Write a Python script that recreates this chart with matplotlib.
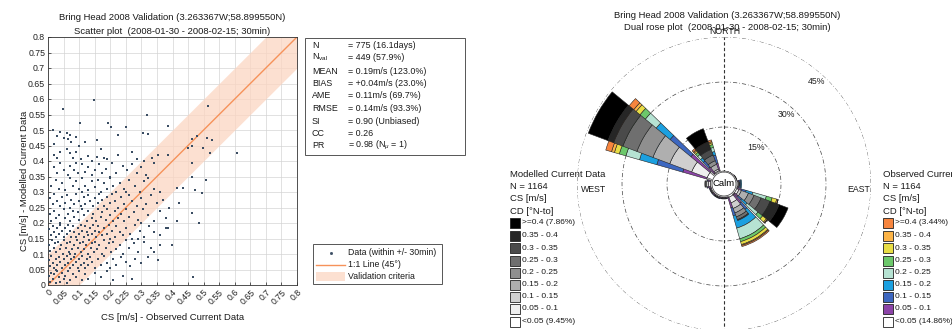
import numpy as np
import matplotlib.pyplot as plt
from matplotlib.patches import Rectangle

plt.rcParams['font.family'] = ['Liberation Sans', 'DejaVu Sans']
plt.rcParams['mathtext.fontset'] = 'custom'
plt.rcParams['mathtext.rm'] = 'Liberation Sans'
plt.rcParams['mathtext.it'] = 'Liberation Sans:italic'

# ---- scatter data: (observed CS, modelled CS) in m/s ----
pairs = [
    (0.148, 0.597), (0.048, 0.569), (0.317, 0.549), (0.515, 0.578), (0.016, 0.50), (0.102, 0.522),
    (0.193, 0.522), (0.204, 0.509), (0.252, 0.509), (0.387, 0.514), (0.04, 0.495), (0.06, 0.49),
    (0.07, 0.485),
    (0.03, 0.48), (0.05, 0.475), (0.065, 0.47), (0.075, 0.46), (0.09, 0.478), (0.10, 0.45),
    (0.156, 0.468), (0.226, 0.485), (0.306, 0.49), (0.32, 0.486), (0.464, 0.47), (0.478, 0.481),
    (0.51, 0.474), (0.526, 0.468), (0.451, 0.441), (0.462, 0.447), (0.499, 0.441), (0.02, 0.455),
    (0.12, 0.462),
    (0.02, 0.42), (0.03, 0.41), (0.04, 0.43), (0.06, 0.44), (0.07, 0.425), (0.08, 0.41), (0.09, 0.43),
    (0.107, 0.405), (0.13, 0.415), (0.14, 0.40), (0.156, 0.412), (0.17, 0.44), (0.18, 0.41),
    (0.19, 0.405), (0.226, 0.42), (0.27, 0.43), (0.285, 0.405), (0.31, 0.40), (0.335, 0.41),
    (0.354, 0.418), (0.387, 0.42), (0.519, 0.425), (0.607, 0.425), (0.462, 0.393),
    (0.02, 0.38), (0.03, 0.36), (0.04, 0.395), (0.05, 0.37), (0.065, 0.355), (0.07, 0.385),
    (0.085, 0.37), (0.095, 0.36), (0.11, 0.39), (0.12, 0.365), (0.13, 0.38), (0.14, 0.355),
    (0.15, 0.37), (0.165, 0.39), (0.175, 0.36), (0.185, 0.375), (0.205, 0.395), (0.22, 0.36),
    (0.24, 0.385), (0.255, 0.37), (0.27, 0.39), (0.285, 0.36), (0.30, 0.38), (0.315, 0.355),
    (0.34, 0.395), (0.462, 0.35), (0.09, 0.395), (0.2, 0.35),
    (0.01, 0.32), (0.025, 0.34), (0.035, 0.31), (0.045, 0.33), (0.055, 0.305), (0.07, 0.345),
    (0.08, 0.32), (0.09, 0.335), (0.10, 0.31), (0.11, 0.345), (0.12, 0.32), (0.13, 0.305),
    (0.14, 0.335), (0.15, 0.315), (0.16, 0.34), (0.17, 0.30), (0.18, 0.33), (0.19, 0.31),
    (0.20, 0.345), (0.21, 0.32), (0.22, 0.30), (0.23, 0.33), (0.245, 0.31), (0.26, 0.34),
    (0.28, 0.32), (0.295, 0.30), (0.31, 0.335), (0.34, 0.31), (0.36, 0.30), (0.413, 0.312),
    (0.435, 0.312), (0.473, 0.307), (0.494, 0.298), (0.508, 0.339), (0.32, 0.345),
    (0.005, 0.28), (0.015, 0.26), (0.02, 0.295), (0.03, 0.27), (0.04, 0.255), (0.045, 0.285),
    (0.055, 0.265), (0.06, 0.29), (0.07, 0.25), (0.075, 0.275), (0.085, 0.26), (0.09, 0.295),
    (0.10, 0.27), (0.105, 0.255), (0.115, 0.285), (0.12, 0.26), (0.13, 0.29), (0.135, 0.27),
    (0.145, 0.255), (0.15, 0.28), (0.16, 0.265), (0.165, 0.295), (0.175, 0.275), (0.18, 0.255),
    (0.19, 0.285), (0.20, 0.265), (0.205, 0.295), (0.215, 0.27), (0.225, 0.25), (0.235, 0.285),
    (0.245, 0.26), (0.26, 0.29), (0.27, 0.27), (0.285, 0.255), (0.30, 0.28), (0.315, 0.26),
    (0.33, 0.29), (0.35, 0.265), (0.37, 0.275), (0.39, 0.25), (0.42, 0.265), (0.25, 0.30),
    (0.11, 0.30),
    (0.005, 0.23), (0.01, 0.205), (0.02, 0.24), (0.025, 0.215), (0.035, 0.225), (0.04, 0.20),
    (0.05, 0.245), (0.055, 0.215), (0.065, 0.23), (0.07, 0.205), (0.08, 0.24), (0.085, 0.22),
    (0.095, 0.235), (0.10, 0.21), (0.11, 0.245), (0.115, 0.225), (0.125, 0.205), (0.13, 0.24),
    (0.14, 0.215), (0.145, 0.23), (0.155, 0.205), (0.16, 0.245), (0.17, 0.22), (0.175, 0.235),
    (0.185, 0.21), (0.19, 0.245), (0.20, 0.225), (0.21, 0.205), (0.215, 0.24), (0.225, 0.215),
    (0.235, 0.23), (0.245, 0.205), (0.25, 0.245), (0.26, 0.22), (0.275, 0.235), (0.29, 0.21),
    (0.305, 0.245), (0.32, 0.225), (0.34, 0.205), (0.36, 0.24), (0.38, 0.215), (0.413, 0.206),
    (0.462, 0.232), (0.486, 0.199), (0.30, 0.20),
    (0.003, 0.18), (0.01, 0.16), (0.015, 0.19), (0.02, 0.17), (0.025, 0.155), (0.03, 0.185),
    (0.035, 0.165), (0.04, 0.195), (0.045, 0.175), (0.05, 0.155), (0.055, 0.185), (0.06, 0.165),
    (0.065, 0.195), (0.07, 0.175), (0.075, 0.155), (0.08, 0.19), (0.085, 0.17), (0.09, 0.155),
    (0.095, 0.185), (0.10, 0.165), (0.105, 0.195), (0.11, 0.175), (0.115, 0.155), (0.12, 0.19),
    (0.125, 0.17), (0.13, 0.16), (0.135, 0.185), (0.14, 0.165), (0.145, 0.195), (0.15, 0.175),
    (0.155, 0.155), (0.16, 0.19), (0.165, 0.17), (0.175, 0.16), (0.18, 0.185), (0.19, 0.165),
    (0.195, 0.195), (0.205, 0.175), (0.215, 0.155), (0.22, 0.19), (0.23, 0.17), (0.24, 0.16),
    (0.25, 0.185), (0.265, 0.165), (0.28, 0.195), (0.295, 0.175), (0.31, 0.155), (0.325, 0.19),
    (0.34, 0.17), (0.36, 0.16), (0.38, 0.185), (0.387, 0.183), (0.27, 0.15), (0.20, 0.15),
    (0.003, 0.13), (0.008, 0.11), (0.012, 0.145), (0.018, 0.12), (0.022, 0.135), (0.027, 0.105),
    (0.032, 0.14), (0.037, 0.115), (0.042, 0.13), (0.047, 0.10), (0.052, 0.145), (0.057, 0.12),
    (0.062, 0.135), (0.067, 0.105), (0.072, 0.14), (0.077, 0.115), (0.082, 0.13), (0.087, 0.10),
    (0.092, 0.145), (0.097, 0.12), (0.102, 0.135), (0.107, 0.105), (0.112, 0.14), (0.117, 0.115),
    (0.122, 0.13), (0.127, 0.10), (0.132, 0.145), (0.137, 0.12), (0.142, 0.135), (0.147, 0.105),
    (0.152, 0.14), (0.157, 0.115), (0.165, 0.13), (0.172, 0.10), (0.18, 0.145), (0.187, 0.12),
    (0.195, 0.135), (0.202, 0.105), (0.21, 0.14), (0.22, 0.115), (0.23, 0.13), (0.24, 0.10),
    (0.25, 0.145), (0.26, 0.12), (0.275, 0.135), (0.29, 0.105), (0.31, 0.14), (0.33, 0.12),
    (0.34, 0.108), (0.397, 0.129), (0.36, 0.13), (0.29, 0.15),
    (0.002, 0.08), (0.006, 0.06), (0.01, 0.095), (0.015, 0.07), (0.02, 0.055), (0.025, 0.085),
    (0.03, 0.065), (0.035, 0.09), (0.04, 0.075), (0.045, 0.055), (0.05, 0.085), (0.055, 0.065),
    (0.06, 0.095), (0.065, 0.07), (0.07, 0.055), (0.075, 0.085), (0.08, 0.065), (0.085, 0.09),
    (0.09, 0.075), (0.095, 0.055), (0.10, 0.085), (0.105, 0.065), (0.11, 0.095), (0.115, 0.07),
    (0.12, 0.055), (0.125, 0.085), (0.13, 0.065), (0.135, 0.09), (0.14, 0.075), (0.15, 0.055),
    (0.16, 0.085), (0.17, 0.065), (0.18, 0.095), (0.19, 0.07), (0.20, 0.055), (0.21, 0.085),
    (0.22, 0.065), (0.235, 0.09), (0.25, 0.075), (0.265, 0.06), (0.28, 0.085), (0.30, 0.07),
    (0.32, 0.09), (0.354, 0.081), (0.025, 0.05), (0.07, 0.10), (0.13, 0.10),
    (0.002, 0.03), (0.005, 0.01), (0.01, 0.04), (0.015, 0.02), (0.02, 0.035), (0.025, 0.005),
    (0.03, 0.045), (0.035, 0.025), (0.04, 0.01), (0.045, 0.04), (0.05, 0.02), (0.055, 0.03),
    (0.06, 0.005), (0.065, 0.045), (0.07, 0.015), (0.08, 0.035), (0.09, 0.025), (0.10, 0.045),
    (0.11, 0.015), (0.12, 0.035), (0.13, 0.02), (0.15, 0.04), (0.17, 0.025), (0.19, 0.045),
    (0.21, 0.015), (0.24, 0.03), (0.27, 0.02), (0.467, 0.027),
]
obs_cs = np.array([p[0] for p in pairs])
mod_cs = np.array([p[1] for p in pairs])

ticks = np.arange(0, 0.8001, 0.05)
tick_labels = ['0', '0.05', '0.1', '0.15', '0.2', '0.25', '0.3', '0.35', '0.4',
               '0.45', '0.5', '0.55', '0.6', '0.65', '0.7', '0.75', '0.8']
band = 0.1  # validation criteria +/- m/s

stats_names = ['N', r'N$_{\mathrm{val}}$', 'MEAN', 'BIAS', 'AME', 'RMSE', 'SI', 'CC', 'PR']
stats_values = ['= 775 (16.1days)', '= 449 (57.9%)', '= 0.19m/s (123.0%)',
                '= +0.04m/s (23.0%)', '= 0.11m/s (69.7%)', '= 0.14m/s (93.3%)',
                '= 0.90 (Unbiased)', '= 0.26', r'= 0.98 (N$_{\mu}$ = 1)']

# ---- rose data: frequency (%) per direction (deg N, going to) and speed bin ----
directions = np.arange(0, 360, 30)
speed_bins = ['<0.05', '0.05 - 0.1', '0.1 - 0.15', '0.15 - 0.2', '0.2 - 0.25',
              '0.25 - 0.3', '0.3 - 0.35', '0.35 - 0.4', '>=0.4']
mod_freq = [
    [0.2, 0.1, 0, 0, 0, 0, 0, 0, 0],
    [0.2, 0.1, 0, 0, 0, 0, 0, 0, 0],
    [0.2, 0.2, 0.1, 0, 0, 0, 0, 0, 0],
    [0.3, 0.4, 0.3, 0.1, 0, 0, 0, 0, 0],
    [0.5, 0.8, 0.9, 2.5, 2.0, 2.5, 3.2, 3.2, 3.2],
    [0.7, 2.0, 2.0, 1.6, 1.4, 1.0, 0.3, 0, 0],
    [0.3, 0.3, 0.1, 0, 0, 0, 0, 0, 0],
    [0.4, 0.3, 0.1, 0, 0, 0, 0, 0, 0],
    [0.4, 0.3, 0.2, 0, 0, 0, 0, 0, 0],
    [0.5, 0.7, 0.6, 0.4, 0.2, 0, 0, 0, 0],
    [2.0, 5.5, 7.8, 6.0, 5.7, 5.0, 3.3, 2.0, 7.0],
    [0.3, 0.4, 0.6, 1.7, 1.3, 2.0, 2.0, 2.7, 4.7],
]
obs_freq = [
    [0.2, 0.1, 0, 0, 0, 0, 0, 0, 0],
    [0.2, 0.1, 0, 0, 0, 0, 0, 0, 0],
    [0.3, 0.2, 0, 0, 0, 0, 0, 0, 0],
    [0.5, 0.6, 0.5, 0.3, 0, 0, 0, 0, 0],
    [0.7, 1.3, 1.7, 2.3, 4.7, 2.0, 1.6, 0.4, 0.1],
    [0.7, 3.6, 2.7, 4.3, 3.7, 1.0, 1.0, 0.3, 0.4],
    [0.4, 0.4, 0.2, 0, 0, 0, 0, 0, 0],
    [0.5, 0.4, 0.2, 0, 0, 0, 0, 0, 0],
    [0.4, 0.5, 0.2, 0, 0, 0, 0, 0, 0],
    [0.6, 0.9, 0.3, 0, 0, 0, 0, 0, 0],
    [2.0, 8.3, 9.0, 6.0, 4.7, 2.3, 1.7, 1.0, 2.0],
    [0.7, 2.6, 2.7, 1.3, 1.4, 1.0, 0.6, 0.4, 0.6],
]
mod_top_pct = '7.86%'
mod_low_pct = '9.45%'
obs_top_pct = '3.44%'
obs_low_pct = '14.86%'
rings = [15, 30, 45]

mod_colors = ['#ffffff', '#eeeeee', '#cfcfcf', '#afafaf', '#8f8f8f',
              '#6f6f6f', '#4a4a4a', '#262626', '#000000']
obs_colors = ['#ffffff', '#8c44a8', '#3d67c0', '#1ba0e0', '#b6e3d3',
              '#6cc86b', '#e8dd45', '#fdb446', '#f7853e']

W, H = 952, 329
fig = plt.figure(figsize=(W / 100, H / 100), dpi=100)


def fbox(x0, y0, x1, y1):
    # pixel box (top-left origin) -> figure fraction rect
    return [x0 / W, 1 - y1 / H, (x1 - x0) / W, (y1 - y0) / H]


# ---------------- scatter plot ----------------
ax = fig.add_axes(fbox(48, 37, 297, 285))
xx = np.array([0, 0.8])
ax.fill_between(xx, xx - band, xx + band, color='#fcd6c2', alpha=0.75, lw=0, zorder=1)
ax.plot(xx, xx, color='#f6925a', lw=1.0, zorder=2)
ax.scatter(obs_cs, mod_cs, s=1.3, marker='s', color='#3a4d63', linewidths=0, zorder=3)
ax.set_xlim(0, 0.8)
ax.set_ylim(0, 0.8)
ax.set_xticks(ticks)
ax.set_yticks(ticks)
ax.set_xticklabels(tick_labels, rotation=45, ha='right', va='top', rotation_mode='anchor')
ax.set_yticklabels(tick_labels)
ax.tick_params(labelsize=6.3, direction='in', length=2, width=0.5, pad=2, colors='#222222')
ax.grid(True, color='#d4d4d4', lw=0.5, zorder=0)
ax.set_axisbelow(True)
for s in ax.spines.values():
    s.set_linewidth(0.6)
    s.set_color('#333333')

# ---------------- dual rose ----------------
R = 49  # outer ring (45%) + 4 for the calm circle
cx, cy, rp = 724, 184, 147
pax = fig.add_axes(fbox(cx - rp, cy - rp, cx + rp, cy + rp), projection='polar')
pax.set_theta_zero_location('N')
pax.set_theta_direction(-1)
pax.set_ylim(0, R)
pax.axis('off')

th = np.deg2rad(directions)
for i in range(len(directions)):
    base = 4.0
    for j, v in enumerate(obs_freq[i]):
        if v > 0:
            pax.bar(th[i], v, width=np.deg2rad(28), bottom=base, color=obs_colors[j],
                    edgecolor='#222222', lw=0.4, zorder=3)
            base += v
for i in range(len(directions)):
    base = 4.0
    for j, v in enumerate(mod_freq[i]):
        if v > 0:
            pax.bar(th[i], v, width=np.deg2rad(19), bottom=base, color=mod_colors[j],
                    edgecolor='#222222', lw=0.4, zorder=4)
            base += v

circ = np.linspace(0, 2 * np.pi, 400)
for p in rings:
    pax.plot(circ, np.full_like(circ, p + 4), color='#444444', lw=0.5,
             ls=(0, (6, 3, 1, 3)), zorder=2)
    pax.text(np.deg2rad(42), p + 4 - 2.8, f'{p}%', fontsize=6.3, ha='center', va='center',
             color='#222222', zorder=6)
pax.plot([0, 0], [0, R], color='#333333', lw=0.8, ls=(0, (3, 2)), zorder=2)
pax.plot([np.pi, np.pi], [0, R], color='#333333', lw=0.8, ls=(0, (3, 2)), zorder=2)
pax.fill(circ, np.full_like(circ, 4), color='white', zorder=7)
pax.plot(circ, np.full_like(circ, 4), color='#333333', lw=0.5, zorder=7)
pax.text(0, 0, 'Calm', fontsize=6.8, ha='center', va='center', zorder=8)

# ---------------- overlay for texts / boxes (pixel coords) ----------------
ov = fig.add_axes([0, 0, 1, 1])
ov.set_xlim(0, W)
ov.set_ylim(H, 0)
ov.axis('off')
tc = '#1a1a1a'

ov.text(172.5, 17, 'Bring Head 2008 Validation (3.263367W;58.899550N)', fontsize=6.8,
        ha='center', va='center', color=tc)
ov.text(172.5, 31, 'Scatter plot  (2008-01-30 - 2008-02-15; 30min)', fontsize=6.8,
        ha='center', va='center', color=tc)
ov.text(172.5, 317, 'CS [m/s] - Observed Current Data', fontsize=6.8, ha='center',
        va='center', color=tc)
ov.text(25, 181, 'CS [m/s] - Modelled Current Data', fontsize=6.8, ha='center',
        va='center', rotation=90, color=tc)

ov.text(727, 15, 'Bring Head 2008 Validation (3.263367W;58.899550N)', fontsize=6.8,
        ha='center', va='center', color=tc)
ov.text(727, 27, 'Dual rose plot  (2008-01-30 - 2008-02-15; 30min)', fontsize=6.8,
        ha='center', va='center', color=tc)
ov.text(725, 32, 'NORTH', fontsize=6.3, ha='center', va='center', color=tc)
ov.text(581, 190, 'WEST', fontsize=6.3, ha='left', va='center', color=tc)
ov.text(870, 190, 'EAST', fontsize=6.3, ha='right', va='center', color=tc)

# stats box
ov.add_patch(Rectangle((305, 38), 160, 117, fill=True, facecolor='white',
                       edgecolor='#555555', lw=0.7))
stat_y = [46, 57.5, 71, 83.5, 96, 108.5, 121, 133, 145.5]
for nm, val, yy in zip(stats_names, stats_values, stat_y):
    ov.text(312, yy, nm, fontsize=6.4, ha='left', va='center', color=tc)
    ov.text(348, yy, val, fontsize=6.4, ha='left', va='center', color=tc)

# scatter legend
ov.add_patch(Rectangle((313, 244), 129, 40, fill=True, facecolor='white',
                       edgecolor='#555555', lw=0.7))
ov.plot([331], [252.5], marker='s', ms=1.0, color='#3a4d63', lw=0)
ov.plot([316, 345], [264.5, 264.5], color='#f6925a', lw=1.0)
ov.add_patch(Rectangle((316, 272), 29, 9, facecolor='#fcd6c2', alpha=0.75, lw=0))
for t, yy in zip(['Data (within +/- 30min)', '1:1 Line (45°)', 'Validation criteria'],
                 [252.5, 264.5, 276.5]):
    ov.text(348, yy, t, fontsize=6.3, ha='left', va='center', color=tc)

# rose legends
leg_y = [223, 235.5, 248, 260.5, 272.5, 285, 297, 309, 321.5]
for x0, head, cols, top_pct, low_pct in [(510, 'Modelled Current Data', mod_colors, mod_top_pct, mod_low_pct),
                                         (883, 'Observed Current Data', obs_colors, obs_top_pct, obs_low_pct)]:
    for t, yy in zip([head, 'N = 1164', 'CS [m/s]', 'CD [°N-to]'], [174.5, 186.5, 198.5, 211]):
        ov.text(x0, yy, t, fontsize=6.8, ha='left', va='center', color=tc)
    for k, yy in enumerate(leg_y):
        j = len(speed_bins) - 1 - k
        ov.add_patch(Rectangle((x0, yy - 5), 10, 10, facecolor=cols[j], edgecolor='#222222', lw=0.6))
        lab = speed_bins[j]
        if j == len(speed_bins) - 1:
            lab = f'{lab} ({top_pct})'
        if j == 0:
            lab = f'{lab} ({low_pct})'
        ov.text(x0 + 12, yy, lab, fontsize=6, ha='left', va='center', color=tc)

fig.savefig('out.png', dpi=100)
